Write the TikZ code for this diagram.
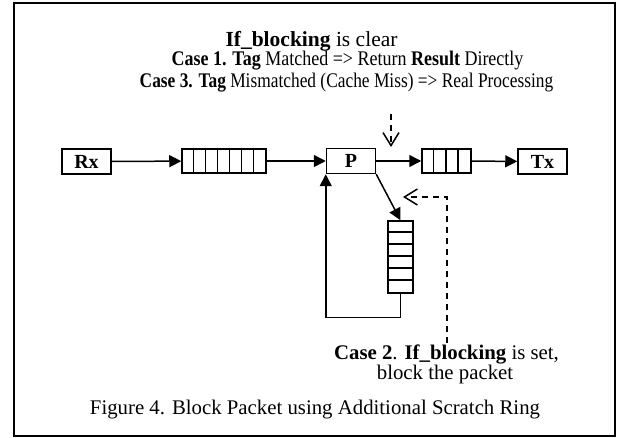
\documentclass[tikz,border=0pt]{standalone}
\usepackage{fontspec}
\usepackage{graphicx}
\setmainfont{Liberation Serif}
\usetikzlibrary{arrows.meta,positioning}
\newcommand{\pxfont}[1]{\fontsize{#1}{#1}\selectfont}
\tikzset{
  blk/.style={draw,line width=1.5pt,minimum width=49pt,minimum height=25pt,inner sep=0pt,font=\pxfont{20}\bfseries},
  ring/.style={draw,line width=1.5pt,inner sep=0pt},
  flow/.style={line width=1.5pt,-{Triangle[length=12pt,width=12pt]}},
  hint/.style={line width=1.5pt,dash pattern=on 6pt off 5pt,-{Straight Barb[length=13pt,width=16pt]}},
  note/.style={anchor=base,inner sep=0pt,font=\pxfont{20.8}}
}
\begin{document}
\begin{tikzpicture}[x=1pt,y=-1pt]
	\useasboundingbox (0,0) rectangle (619,438);
	\draw[line width=2pt] (14,3) rectangle (615,436.5);

	\node[note,font=\pxfont{21.5}] (clear) at (311.5,46.5) {\textbf{If\_blocking} is clear};
	\node[note] (case1) at (347.5,66) {\scalebox{0.865}[1]{\textbf{Case 1. Tag} Matched => Return \textbf{Result} Directly}};
	\node[note] (case3) at (346.5,87.5) {\scalebox{0.835}[1]{\textbf{Case 3. Tag} Mismatched (Cache Miss) => Real Processing}};

	\node[blk] (rx) at (86.5,161.5) {Rx};
	\node[ring,minimum width=84pt,minimum height=24pt] (q1) at (224,161) {};
	\foreach \i in {1,...,6} {
		\draw[line width=1.5pt] ([xshift=\i*12pt]q1.north west) -- ([xshift=\i*12pt]q1.south west);}
	\node[blk] (p) at (351,161) {P};
	\node[ring,minimum width=49pt,minimum height=24pt] (q2) at (446.5,161) {};
	\foreach \i in {1,2,3} {
		\draw[line width=1.5pt] ([xshift=\i*12.25pt]q2.north west) -- ([xshift=\i*12.25pt]q2.south west);}
	\node[blk] (tx) at (542.5,161.5) {Tx};
	\node[ring,minimum width=25pt,minimum height=72pt] (q3) at (400.5,257) {};
	\foreach \i in {1,...,5} {
		\draw[line width=1.5pt] ([yshift=-\i*12pt]q3.north west) -- ([yshift=-\i*12pt]q3.north east);}

	\draw[flow] (rx) -- (q1);
	\draw[flow] (q1) -- (p);
	\draw[flow] (p) -- (q2);
	\draw[flow] (q2) -- (tx);
	\draw[flow] (p.south east) -- (q3.north);
	\draw[flow] (q3.south) -- ++(0,24) -| (p.south west);

	\coordinate (clrstart) at (391,114);
	\coordinate (clrend) at (391,147);
	\draw[hint] (clrstart) -- (clrend);

	\node[note] (case2) at (446.5,360) {\textbf{Case 2}. \textbf{If\_blocking} is set,};
	\node[note] (blockit) at (445,380) {block the packet};
	\coordinate (setstart) at (447,343);
	\coordinate (setend) at (403,197);
	\draw[hint] (setstart) |- (setend);

	\node[note] (caption) at (315,415) {Figure 4. Block Packet using Additional Scratch Ring};
\end{tikzpicture}
\end{document}
